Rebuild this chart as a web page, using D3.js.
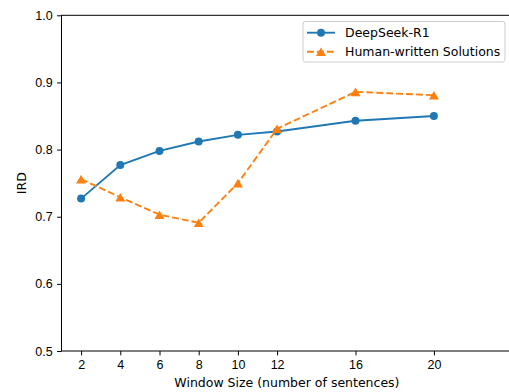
<!DOCTYPE html>
<html>
<head>
<meta charset="utf-8">
<script src="https://cdnjs.cloudflare.com/ajax/libs/d3/7.8.5/d3.min.js"></script>
<style>
    body { margin: 0; background: #fff; }
    svg { display: block; font-family: "DejaVu Sans", sans-serif; }
    .axis text { font-size: 12.5px; fill: #000; }
    .axis path, .axis line { stroke: #000; stroke-width: 1px; }
</style>
</head>
<body>
<div id="chart"></div>
<script>
var windowSizes = [2, 4, 6, 8, 10, 12, 16, 20];
var deepseekR1 = [0.727, 0.777, 0.798, 0.812, 0.822, 0.827, 0.843, 0.850];
var humanWritten = [0.756, 0.729, 0.703, 0.691, 0.750, 0.831, 0.886, 0.881];
var yTicks = [0.5, 0.6, 0.7, 0.8, 0.9, 1.0];
var seriesNames = ["DeepSeek-R1", "Human-written Solutions"];

var series = [
    {name: seriesNames[0], values: deepseekR1, color: "#1f77b4", dash: null, marker: "circle"},
    {name: seriesNames[1], values: humanWritten, color: "#ff7f0e", dash: "6.9,3", marker: "triangle"}
];

// canvas / plot area
var W = 509, H = 392;
var margin = {top: 15.3, right: -3.3, bottom: 41, left: 61.5},
    width = W - margin.left - margin.right,
    height = H - margin.top - margin.bottom;

var x = d3.scaleLinear().domain([1, 24]).range([0, width]);
var y = d3.scaleLinear().domain([0.5, 1.0]).range([height, 0]);

var root = d3.select("#chart")
    .append("svg")
        .attr("width", W)
        .attr("height", H);

var svg = root.append("g")
    .attr("transform", "translate(" + margin.left + "," + margin.top + ")");

// frame (right side falls outside the picture)
svg.append("rect")
    .attr("x", 0)
    .attr("y", 0)
    .attr("width", width)
    .attr("height", height)
    .attr("fill", "none")
    .attr("stroke", "#000")
    .attr("stroke-width", 1);

// axes
var xAxis = d3.axisBottom(x)
    .tickValues(windowSizes)
    .tickSize(4.4)
    .tickPadding(4.4)
    .tickFormat(d3.format("d"));

var yAxis = d3.axisLeft(y)
    .tickValues(yTicks)
    .tickSize(4.4)
    .tickPadding(4.4)
    .tickFormat(d3.format(".1f"));

svg.append("g")
    .attr("class", "x axis")
    .attr("transform", "translate(0," + height + ")")
    .call(xAxis)
    .call(function(g) { g.select(".domain").remove(); });

svg.append("g")
    .attr("class", "y axis")
    .call(yAxis)
    .call(function(g) { g.select(".domain").remove(); });

// axis labels
svg.append("text")
    .attr("x", width / 2)
    .attr("y", 382.7 - margin.top)
    .attr("dy", "0.35em")
    .attr("text-anchor", "middle")
    .style("font-size", "12.5px")
    .text("Window Size (number of sentences)");

svg.append("text")
    .attr("transform", "translate(" + (21.7 - margin.left) + "," + (height / 2) + ") rotate(-90)")
    .attr("text-anchor", "middle")
    .attr("dy", "0.35em")
    .style("font-size", "12.5px")
    .text("IRD");

// lines
var valueline = d3.line()
    .x(function(d) { return x(d[0]); })
    .y(function(d) { return y(d[1]); });

var tri = d3.symbol().type(d3.symbolTriangle).size(43);
var triShift = 1.44; // bbox centre on the point, like matplotlib

series.forEach(function(s) {
    var pts = windowSizes.map(function(w, i) { return [w, s.values[i]]; });

    svg.append("path")
        .attr("d", valueline(pts))
        .attr("fill", "none")
        .attr("stroke", s.color)
        .attr("stroke-width", 1.875)
        .attr("stroke-dasharray", s.dash);

    if (s.marker === "circle") {
        svg.selectAll(null)
            .data(pts)
            .enter()
            .append("circle")
            .attr("cx", function(d) { return x(d[0]); })
            .attr("cy", function(d) { return y(d[1]); })
            .attr("r", 4)
            .attr("fill", s.color);
    } else {
        svg.selectAll(null)
            .data(pts)
            .enter()
            .append("path")
            .attr("d", tri)
            .attr("transform", function(d) {
                return "translate(" + x(d[0]) + "," + (y(d[1]) + triShift) + ")";
            })
            .attr("fill", s.color);
    }
});

// legend
var legend = root.append("g")
    .attr("transform", "translate(303,21.5)");

legend.append("rect")
    .attr("width", 202)
    .attr("height", 40.5)
    .attr("rx", 2.5)
    .attr("fill", "#fff")
    .attr("fill-opacity", 0.8)
    .attr("stroke", "#cccccc")
    .attr("stroke-width", 1);

series.forEach(function(s, i) {
    var ly = 11.2 + i * 19;
    var row = legend.append("g");
    row.append("line")
        .attr("x1", 4)
        .attr("x2", 32)
        .attr("y1", ly)
        .attr("y2", ly)
        .attr("stroke", s.color)
        .attr("stroke-width", 1.875)
        .attr("stroke-dasharray", s.dash);
    if (s.marker === "circle") {
        row.append("circle")
            .attr("cx", 18)
            .attr("cy", ly)
            .attr("r", 4)
            .attr("fill", s.color);
    } else {
        row.append("path")
            .attr("d", tri)
            .attr("transform", "translate(18," + (ly + triShift) + ")")
            .attr("fill", s.color);
    }
    row.append("text")
        .attr("x", 42)
        .attr("y", ly)
        .attr("dy", "0.35em")
        .style("font-size", "12.5px")
        .text(s.name);
});
</script>
</body>
</html>
